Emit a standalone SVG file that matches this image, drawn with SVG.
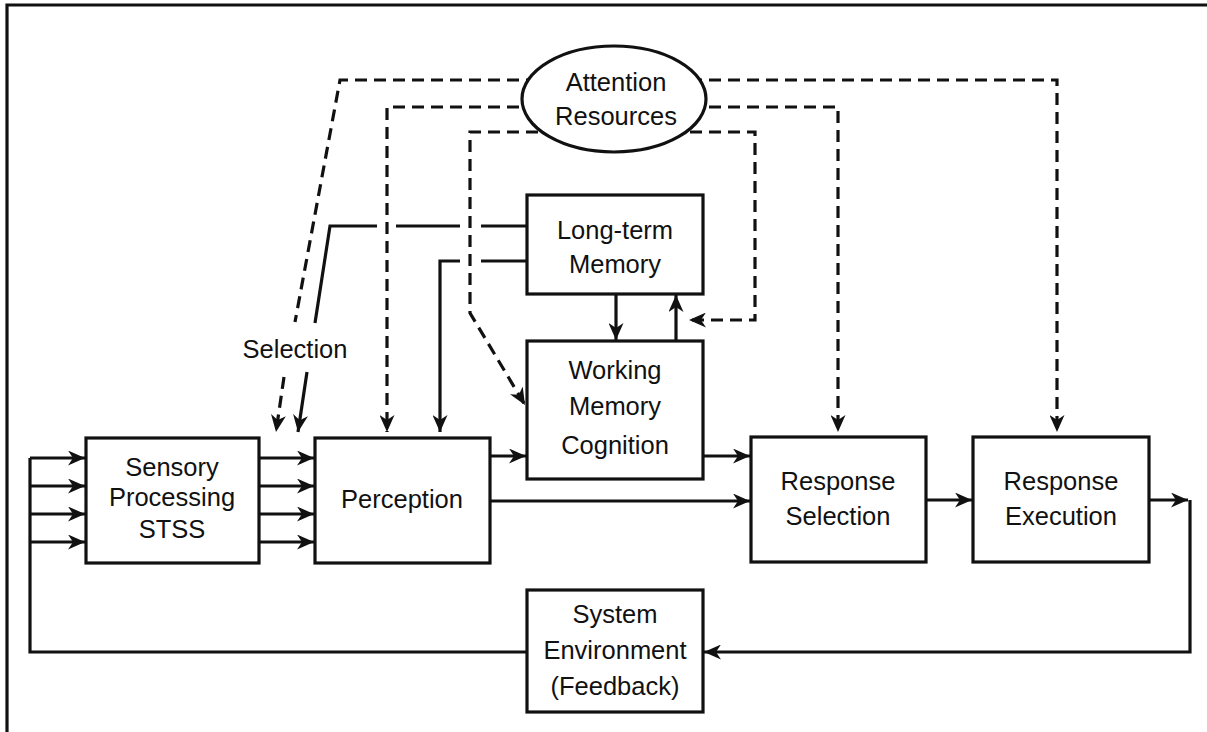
<svg xmlns="http://www.w3.org/2000/svg" width="1207" height="732" viewBox="0 0 1207 732">
<defs>
<marker id="ah" markerUnits="userSpaceOnUse" markerWidth="18" markerHeight="15" refX="17" refY="7.5" orient="auto"><path d="M0,0 L17,7.5 L0,15 L5,7.5 z" fill="#111"/></marker>
</defs>
<style>
.box{fill:#fff;stroke:#111;stroke-width:3.2}
.ln{fill:none;stroke:#111;stroke-width:3.2}
.ds{fill:none;stroke:#111;stroke-width:3.2;stroke-dasharray:12 7}
.arr{marker-end:url(#ah)}
.t{font-family:"Liberation Sans",Arial,sans-serif;font-size:25.5px;fill:#111;text-anchor:middle}
</style>
<rect width="1207" height="732" fill="#fff"/>
<path d="M7,732 V5 H1207" class="ln"/>
<g id="connectors">
<path class="ds" d="M614,80 H340 L295,322"/>
<path class="ds arr" d="M284,377 L276,432"/>
<path class="ds arr" d="M614,107 H387 V432"/>
<path class="ds arr" d="M614,132 H470 V313 L525,405"/>
<path class="ds arr" d="M614,132 H755 V320 H689"/>
<path class="ds arr" d="M614,107 H838 V432"/>
<path class="ds arr" d="M614,80 H1057 V432"/>
<path class="ln" d="M527,226 H481 M460,226 H396 M377,226 H330 L315,323"/>
<path class="ln arr" d="M307,372 L298,432"/>
<path class="ln arr" d="M527,261 H481 M460,261 H440 V432"/>
<path class="ln arr" d="M616,294 V340"/>
<path class="ln arr" d="M676,341 V295"/>
<path class="ln" d="M527,652 H30 V458"/>
<path class="ln arr" d="M30,458 H85"/>
<path class="ln arr" d="M30,486 H85"/>
<path class="ln arr" d="M30,514 H85"/>
<path class="ln arr" d="M30,542 H85"/>
<path class="ln arr" d="M259,458 H314"/>
<path class="ln arr" d="M259,486 H314"/>
<path class="ln arr" d="M259,514 H314"/>
<path class="ln arr" d="M259,542 H314"/>
<path class="ln arr" d="M490,456 H526"/>
<path class="ln arr" d="M490,501 H750"/>
<path class="ln arr" d="M703,456 H750"/>
<path class="ln arr" d="M926,500 H972"/>
<path class="ln arr" d="M1149,500 H1188"/>
<path class="ln arr" d="M1190,500 V652 H704"/>
</g>
<g id="attention">
<ellipse cx="614" cy="99" rx="92" ry="53" class="box"/>
<text class="t" x="616" y="91">Attention</text>
<text class="t" x="616" y="125">Resources</text>
</g>
<g id="ltm">
<rect x="527" y="195" width="176" height="99" class="box"/>
<text class="t" x="615" y="239">Long-term</text>
<text class="t" x="615" y="273">Memory</text>
</g>
<g id="wm">
<rect x="527" y="341" width="176" height="138" class="box"/>
<text class="t" x="615" y="379">Working</text>
<text class="t" x="615" y="415">Memory</text>
<text class="t" x="615" y="454">Cognition</text>
</g>
<g id="sensory">
<rect x="86" y="438" width="173" height="125" class="box"/>
<text class="t" x="172" y="476">Sensory</text>
<text class="t" x="172" y="506">Processing</text>
<text class="t" x="172" y="538">STSS</text>
</g>
<g id="perception">
<rect x="315" y="438" width="175" height="125" class="box"/>
<text class="t" x="402" y="508">Perception</text>
</g>
<g id="response-selection">
<rect x="751" y="437" width="175" height="125" class="box"/>
<text class="t" x="838" y="490">Response</text>
<text class="t" x="838" y="525">Selection</text>
</g>
<g id="response-execution">
<rect x="973" y="437" width="176" height="125" class="box"/>
<text class="t" x="1061" y="490">Response</text>
<text class="t" x="1061" y="525">Execution</text>
</g>
<g id="system-environment">
<rect x="527" y="590" width="176" height="122" class="box"/>
<text class="t" x="615" y="623">System</text>
<text class="t" x="615" y="659">Environment</text>
<text class="t" x="615" y="695">(Feedback)</text>
</g>
<g id="selection-label">
<text class="t" x="295" y="358">Selection</text>
</g>
</svg>
